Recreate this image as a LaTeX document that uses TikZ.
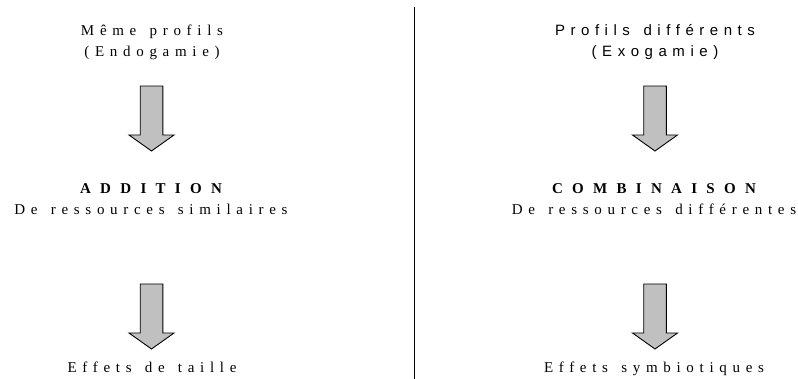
\documentclass[tikz,border=0pt]{standalone}
\usepackage{fontspec}
\setmainfont{Liberation Serif}
\setsansfont{Liberation Sans}
\newfontfamily\spacedrm{Liberation Serif}[LetterSpace=38, WordSpace=1.4]
\newfontfamily\spacedbf{Liberation Serif}[LetterSpace=62, WordSpace=1.4]
\newfontfamily\spacedsf{Liberation Sans}[LetterSpace=37, WordSpace=1.4]
\definecolor{arrowgray}{HTML}{C0C0C0}
\tikzset{
  label rm/.style={align=center, inner sep=0pt, anchor=base,
    font=\fontsize{15}{21}\selectfont\spacedrm},
  label sf/.style={label rm, font=\fontsize{15}{21}\selectfont\spacedsf},
  downarrow/.pic={
    \draw[fill=arrowgray, line width=0.9pt, line join=miter]
      (-11.3,0) -- (11.3,0) -- (11.3,-49) -- (22.5,-49) -- (0,-65)
      -- (-22.5,-49) -- (-11.3,-49) -- cycle;
  }
}
\begin{document}
\begin{tikzpicture}[x=1pt, y=1pt]
        \useasboundingbox (0,0) rectangle (798,-379);
        % Colonne de gauche
        \node[label rm] (meme) at (152,-57) {Même profils\\(Endogamie)};
        \pic at (151.5,-86) {downarrow};
        \node[label rm] (addition) at (151,-215) {{\spacedbf\bfseries ADDITION}\\De ressources similaires};
        \pic at (151.5,-284) {downarrow};
        \node[label rm] (taille) at (152,-373) {Effets de taille};
        % Séparation
        \draw[line width=0.9pt] (414,-7) -- (414,-379);
        % Colonne de droite
        \node[label sf] (profils) at (655,-57) {Profils différents\\(Exogamie)};
        \pic at (655,-86) {downarrow};
        \node[label rm] (combinaison) at (654,-215) {{\spacedbf\bfseries COMBINAISON}\\De ressources différentes};
        \pic at (655,-284) {downarrow};
        \node[label rm] (symbio) at (654,-373) {Effets symbiotiques};
\end{tikzpicture}
\end{document}
